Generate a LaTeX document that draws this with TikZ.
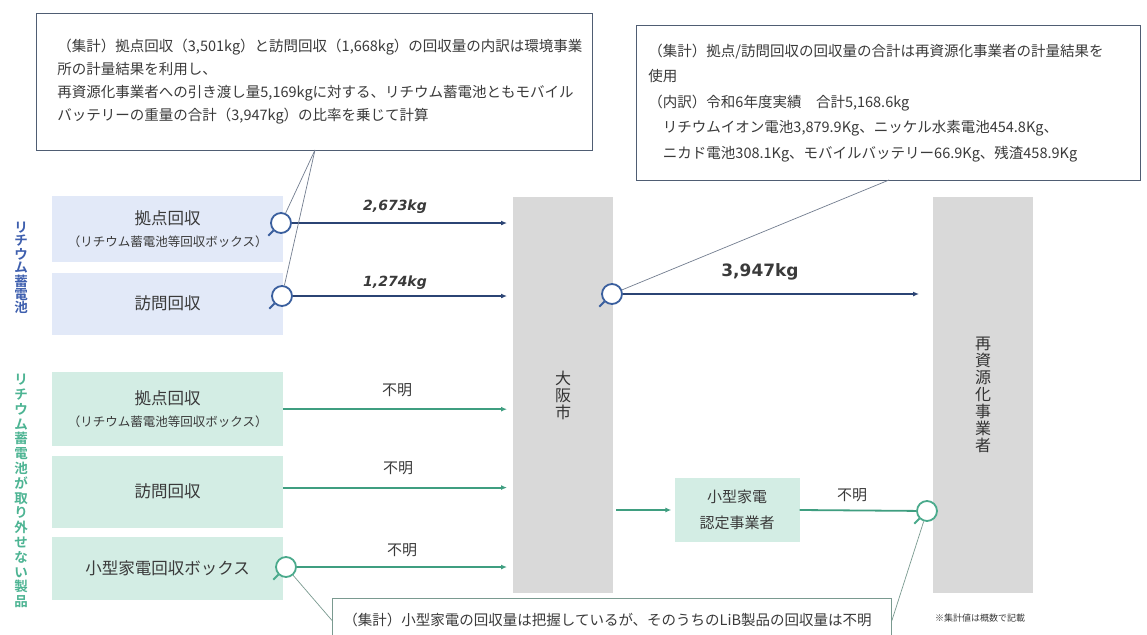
\documentclass[tikz,border=0pt]{standalone}
\usepackage{fontspec}
\setmainfont{Noto Sans CJK JP}[BoldFont={Noto Sans CJK JP Bold}]
\newfontfamily\latinfont{DejaVu Sans}[ItalicFont={DejaVu Sans Oblique}, BoldFont={DejaVu Sans Bold}, BoldItalicFont={DejaVu Sans Bold Oblique}]
\usetikzlibrary{arrows.meta,positioning,calc}

\definecolor{bluefill}{HTML}{E2E9F8}
\definecolor{greenfill}{HTML}{D3EDE4}
\definecolor{barfill}{HTML}{D9D9D9}
\definecolor{navy}{HTML}{2B4474}
\definecolor{lensblue}{HTML}{3A5F9E}
\definecolor{flowgreen}{HTML}{3F9E80}
\definecolor{lensgreen}{HTML}{4AAA8C}
\definecolor{notegray}{HTML}{4F5D73}
\definecolor{notegreen}{HTML}{7A9A90}
\definecolor{textgray}{HTML}{3A3A3A}
\definecolor{sideblue}{HTML}{3E5FAE}
\definecolor{sidegreen}{HTML}{4DB493}

\begin{document}
\begin{tikzpicture}[x=1pt, y=-1pt,
  note/.style={draw=notegray, line width=0.9pt, fill=white, align=left, inner ysep=0pt, anchor=north west, text=textgray},
  srcA/.style={fill=bluefill, minimum width=231pt, inner sep=0pt, align=center, text=textgray, font=\fontsize{16.5}{20}\selectfont},
  srcG/.style={srcA, fill=greenfill},
  bar/.style={fill=barfill, minimum width=100pt, minimum height=396pt, inner sep=0pt, anchor=north west, align=center, text=black!80, font=\fontsize{16}{17}\selectfont},
  lens/.style={circle, draw=#1, line width=1.8pt, fill=white, minimum size=20pt, inner sep=0pt},
  flowA/.style={navy, line width=2pt, -{Latex[length=6pt,width=5pt]}, shorten >=6pt},
  flowG/.style={flowgreen, line width=1.8pt, -{Latex[length=6pt,width=5pt]}, shorten >=6pt},
  pointer/.style={draw=notegray!80, line width=0.7pt},
  qty/.style={inner sep=1pt, text=textgray, font=\fontsize{15}{15}\selectfont},
  kg/.style={inner sep=1pt, text=textgray, font=\latinfont\bfseries\itshape\fontsize{14}{14}\selectfont}
]
  \path[fill=white, use as bounding box] (0,0) rectangle (1147,634);

  % notes
  \node[note, text width=514pt, inner xsep=21pt, minimum height=137pt, font=\fontsize{14.5}{23}\selectfont] (noteA) at (36,13)
    {（集計）拠点回収（3,501kg）と訪問回収（1,668kg）の回収量の内訳は環境事業\\
     所の計量結果を利用し、\\
     再資源化事業者への引き渡し量5,169kgに対する、リチウム蓄電池ともモバイル\\
     バッテリーの重量の合計（3,947kg）の比率を乗じて計算};
  \node[note, text width=480pt, inner xsep=12pt, minimum height=155pt, font=\fontsize{14.5}{25.5}\selectfont] (noteB) at (636,25)
    {（集計）拠点/訪問回収の回収量の合計は再資源化事業者の計量結果を\\
     使用\\
     （内訳）令和6年度実績　合計5,168.6kg\\
     \hspace*{1em}リチウムイオン電池3,879.9Kg、ニッケル水素電池454.8Kg、\\
     \hspace*{1em}ニカド電池308.1Kg、モバイルバッテリー66.9Kg、残渣458.9Kg};
  \node[note, draw=notegreen, text width=537pt, inner xsep=11pt, minimum height=44pt, font=\fontsize{14.5}{18}\selectfont] (noteC) at (332,598)
    {（集計）小型家電の回収量は把握しているが、そのうちのLiB製品の回収量は不明};

  % side labels
  \node[inner sep=0, align=center, text=sideblue, font=\bfseries\fontsize{13.5}{13.4}\selectfont] (sideA) at (21,268)
    {リ\\チ\\ウ\\ム\\蓄\\電\\池};
  \node[inner sep=0, align=center, text=sidegreen, font=\bfseries\fontsize{13.5}{14.8}\selectfont] (sideG) at (21,491)
    {リ\\チ\\ウ\\ム\\蓄\\電\\池\\が\\取\\り\\外\\せ\\な\\い\\製\\品};

  % sources
  \node[srcA, minimum height=66pt, anchor=north west] (bA1) at (52,196)
    {拠点回収\\[2pt]{\fontsize{12.5}{14}\selectfont （リチウム蓄電池等回収ボックス）}};
  \node[srcA, minimum height=62pt, below=10pt of bA1] (bA2) {訪問回収};
  \node[srcG, minimum height=74pt, anchor=north west] (bG1) at (52,372)
    {拠点回収\\[2pt]{\fontsize{12.5}{14}\selectfont （リチウム蓄電池等回収ボックス）}};
  \node[srcG, minimum height=72pt, below=9pt of bG1] (bG2) {訪問回収};
  \node[srcG, minimum height=63pt, below=9pt of bG2] (bG3) {小型家電回収ボックス};

  % bars
  \node[bar] (osaka) at (513,197) {大\\阪\\市};
  \node[bar] (recyc) at (933,197) {再\\資\\源\\化\\事\\業\\者};
  \node[srcG, minimum width=125pt, minimum height=64pt, font=\fontsize{15}{26}\selectfont] (kaden) at (737,510) {小型家電\\認定事業者};

  % lenses
  \node[lens=lensblue] (mA1) at (281,223) {};
  \node[lens=lensblue] (mA2) at (282,296) {};
  \node[lens=lensblue] (mC) at (612,294) {};
  \node[lens=lensgreen] (mG) at (286,567) {};
  \node[lens=lensgreen] (mR) at (927,511) {};
  \foreach \m/\c in {mA1/lensblue, mA2/lensblue, mC/lensblue, mG/lensgreen, mR/lensgreen}
    \draw[\c, line width=2pt] (\m.225) -- ++(-5,5);

  % flows
  \draw[flowA] (mA1) -- (mA1 -| osaka.west);
  \draw[flowA] (mA2) -- (mA2 -| osaka.west);
  \draw[flowA, shorten >=14pt] (mC) -- (mC -| recyc.west);
  \draw[flowG] (bG1.east) -- (bG1.east -| osaka.west);
  \draw[flowG] ($(bG2.east)+(0,-4)$) -- ($(bG2.east -| osaka.west)+(0,-4)$);
  \draw[flowG] (mG) -- (mG -| osaka.west);
  \draw[flowG, shorten <=3pt, shorten >=3pt] (osaka.east |- kaden) -- (kaden.west);
  \draw[flowgreen, line width=1.8pt] (kaden.east) -- (mR);

  % quantities
  \node[kg] (qA1) at (395,207) {2,673kg};
  \node[kg] (qA2) at (395,283) {1,274kg};
  \node[inner sep=1pt, text=textgray, font=\latinfont\bfseries\fontsize{17}{17}\selectfont] (qC) at (760,272) {3,947kg};
  \node[qty] (qG1) at (397,390) {不明};
  \node[qty] (qG2) at (398,468) {不明};
  \node[qty] (qG3) at (402,550) {不明};
  \node[qty] (qK) at (852,495) {不明};

  % pointers
  \coordinate (tipA) at (315,150);
  \coordinate (tipB) at (889,180);
  \draw[pointer] (tipA) -- (mA1);
  \draw[pointer] (tipA) -- (mA2);
  \draw[pointer] (tipB) -- (mC);
  \draw[pointer, draw=notegreen] (mG) -- (noteC.west);
  \draw[pointer, draw=notegreen] (noteC.east) -- (mR);

  \node[inner sep=0, text=textgray, font=\fontsize{9}{9}\selectfont] (foot) at (980,618) {※集計値は概数で記載};
\end{tikzpicture}
\end{document}
